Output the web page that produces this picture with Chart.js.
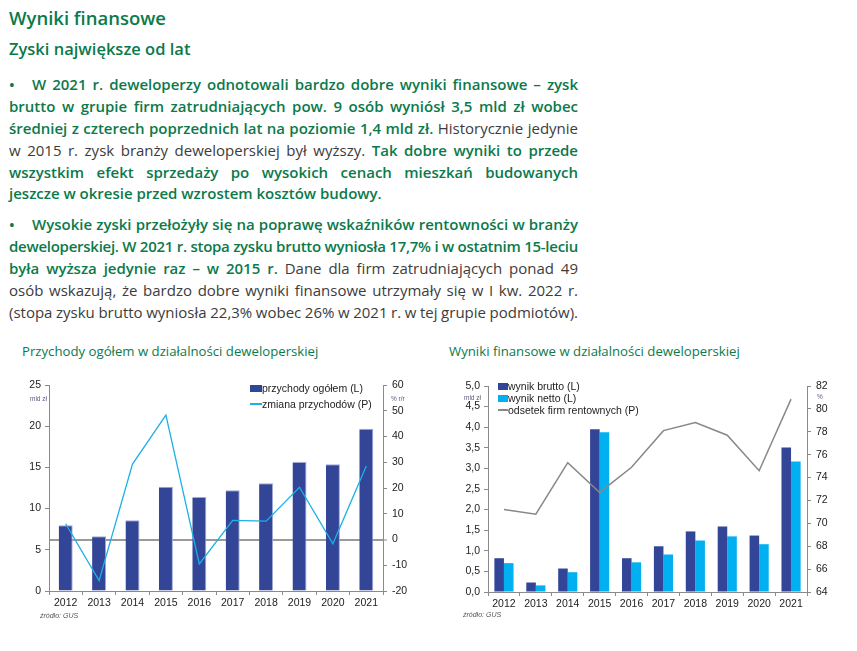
<!DOCTYPE html>
<html>
<head>
<meta charset="utf-8">
<script src="https://cdn.jsdelivr.net/npm/chart.js@4"></script>
<style>
  body { margin: 0; background: #fff; width: 857px; height: 651px; position: relative; overflow: hidden; font-family: "Open Sans", sans-serif; }
  .abs { position: absolute; white-space: nowrap; }
  .h1 { left: 9px; top: 5px; font-size: 18.5px; font-weight: 600; color: #0b7a4b; }
  .h2 { left: 9px; top: 37px; font-size: 16.5px; font-weight: 600; color: #0b7a4b; }
  .ln { left: 9px; width: 569px; height: 22px; line-height: 22px; font-size: 15px; color: #3c3c3c; }
  .ln b { font-weight: 600; color: #0b7a4b; }
  .bl { display: inline-block; width: 23px; font-weight: 600; color: #0b7a4b; }
  .ct { font-size: 13.2px; color: #0b7a4b; }
  .src { font-family: "Liberation Sans", sans-serif; font-style: italic; font-size: 7px; color: #555; }
  .unit { font-family: "Liberation Sans", sans-serif; font-size: 6.5px; color: #5a5a80; }
  .lg { font-family: "Liberation Sans", sans-serif; font-size: 10.5px; color: #222; line-height: 12px; }
  .sw { display: inline-block; vertical-align: middle; margin-top: -2px; }
  canvas { position: absolute; }
</style>
</head>
<body>
<div class="abs h1">Wyniki finansowe</div>
<div class="abs h2">Zyski największe od lat</div>

<div class="abs ln j" style="top:73px"><span><span class="bl">•</span><b>W 2021 r. deweloperzy odnotowali bardzo dobre wyniki finansowe – zysk</b></span></div>
<div class="abs ln j" style="top:95px"><span><b>brutto w grupie firm zatrudniających pow. 9 osób wyniósł 3,5 mld zł wobec</b></span></div>
<div class="abs ln j" style="top:117px"><span><b>średniej z czterech poprzednich lat na poziomie 1,4 mld zł.</b> Historycznie jedynie</span></div>
<div class="abs ln j" style="top:139px"><span>w 2015 r. zysk branży deweloperskiej był wyższy. <b>Tak dobre wyniki to przede</b></span></div>
<div class="abs ln j" style="top:161px"><span><b>wszystkim efekt sprzedaży po wysokich cenach mieszkań budowanych</b></span></div>
<div class="abs ln" style="top:182px"><span><b>jeszcze w okresie przed wzrostem kosztów budowy.</b></span></div>

<div class="abs ln j" style="top:213px"><span><span class="bl">•</span><b>Wysokie zyski przełożyły się na poprawę wskaźników rentowności w branży</b></span></div>
<div class="abs ln j" style="top:235px"><span><b>deweloperskiej. W 2021 r. stopa zysku brutto wyniosła 17,7% i w ostatnim 15-leciu</b></span></div>
<div class="abs ln j" style="top:257px"><span><b>była wyższa jedynie raz – w 2015 r.</b> Dane dla firm zatrudniających ponad 49</span></div>
<div class="abs ln j" style="top:279px"><span>osób wskazują, że bardzo dobre wyniki finansowe utrzymały się w I kw. 2022 r.</span></div>
<div class="abs ln j" style="top:301px"><span>(stopa zysku brutto wyniosła 22,3% wobec 26% w 2021 r. w tej grupie podmiotów).</span></div>

<div class="abs ct" style="left:22px;top:342px">Przychody ogółem w działalności deweloperskiej</div>
<div class="abs ct" style="left:449px;top:342px">Wyniki finansowe w działalności deweloperskiej</div>

<canvas id="revChart" style="left:0;top:370px" width="425" height="250"></canvas>
<canvas id="profitChart" style="left:430px;top:370px" width="427" height="250"></canvas>

<div class="abs unit" style="left:30px;top:395px">mld zł</div>
<div class="abs unit" style="left:391px;top:395px">% r/r</div>
<div class="abs unit" style="left:464px;top:394px">mld zł</div>
<div class="abs unit" style="left:817px;top:393px">%</div>

<div class="abs lg" style="left:250px;top:382px">
  <div><span class="sw" style="width:12px;height:7px;background:#334596"></span>przychody ogółem (L)</div>
  <div style="margin-top:4px"><span class="sw" style="width:12px;height:1.5px;background:#1bb0e6"></span>zmiana przychodów (P)</div>
</div>
<div class="abs lg" style="left:498px;top:380px">
  <div><span class="sw" style="width:10px;height:7px;background:#334596"></span>wynik brutto (L)</div>
  <div><span class="sw" style="width:10px;height:7px;background:#00b0f0"></span>wynik netto (L)</div>
  <div><span class="sw" style="width:10px;height:1.5px;background:#888"></span>odsetek firm rentownych (P)</div>
</div>

<div class="abs src" style="left:40px;top:612px">źródło: GUS</div>
<div class="abs src" style="left:463px;top:611px">źródło: GUS</div>

<script>
const years = ['2012', '2013', '2014', '2015', '2016', '2017', '2018', '2019', '2020', '2021'];
// mld zł
const revenue = [7.97, 6.63, 8.58, 12.66, 11.41, 12.22, 13.07, 15.66, 15.37, 19.7];
// % r/r
const revenueChange = [6.1, -16, 29.3, 48.3, -9.5, 7.4, 7.1, 20.3, -1.7, 28.5];
// mld zł
const grossProfit = [0.82, 0.23, 0.57, 3.95, 0.82, 1.11, 1.47, 1.59, 1.37, 3.51];
const netProfit = [0.70, 0.16, 0.48, 3.88, 0.72, 0.91, 1.25, 1.35, 1.16, 3.17];
// %
const profitableShare = [71.2, 70.8, 75.3, 72.7, 74.9, 78.1, 78.8, 77.7, 74.6, 80.85];

const axisColor = '#8a8a8a';
const tickFont = { family: 'Liberation Sans', size: 10.5 };
const tickColor = '#222';
const comma = v => v.toFixed(1).replace('.', ',');

function fitLines() {
    document.querySelectorAll('.j').forEach(function(el) {
        const sp = el.firstElementChild;
        const w = sp.getBoundingClientRect().width;
        const txt = sp.textContent;
        const n = (txt.match(/ /g) || []).length;
        const diff = 569 - w;
        if (n && diff / n >= -1) {
            sp.style.wordSpacing = (diff / n) + 'px';
        } else {
            sp.style.letterSpacing = (diff / txt.length) + 'px';
        }
    });
}

function xAxis(h) {
    return {
        grid: { offset: true, drawOnChartArea: false, tickLength: 4, color: axisColor },
        border: { color: axisColor },
        ticks: { font: tickFont, color: tickColor, padding: 2, maxRotation: 0 },
        afterFit: s => { s.height = h; }
    };
}

new Chart(document.getElementById('revChart').getContext('2d'), {
    type: 'bar',
    data: {
        labels: years,
        datasets: [{
            type: 'line',
            label: 'zmiana przychodów (P)',
            data: revenueChange,
            yAxisID: 'y1',
            borderColor: '#1bb0e6',
            borderWidth: 1.3,
            pointRadius: 0,
            tension: 0,
            order: 0
        }, {
            label: 'przychody ogółem (L)',
            data: revenue,
            yAxisID: 'y',
            backgroundColor: '#334596',
            borderColor: '#a3a9d6',
            borderWidth: { top: 1, right: 1 },
            categoryPercentage: 0.42,
            barPercentage: 1,
            order: 1
        }]
    },
    options: {
        responsive: false,
        animation: false,
        layout: { padding: { top: 15, left: 0, right: 0, bottom: 0 } },
        plugins: { legend: { display: false }, tooltip: { enabled: false } },
        scales: {
            x: xAxis(29),
            y: {
                position: 'left', min: 0, max: 25,
                ticks: { stepSize: 5, font: tickFont, color: tickColor, padding: 4 },
                grid: { drawOnChartArea: false, tickLength: 4, color: axisColor },
                border: { color: axisColor },
                afterFit: s => { s.width = 49; }
            },
            y1: {
                position: 'right', min: -20, max: 60,
                ticks: { stepSize: 10, font: tickFont, color: tickColor, padding: 5 },
                grid: {
                    color: c => (c.tick && c.tick.value === 0) ? '#9a9a9a' : 'rgba(0,0,0,0)',
                    lineWidth: c => (c.tick && c.tick.value === 0) ? 2 : 1,
                    tickColor: axisColor, tickWidth: 1, tickLength: 4
                },
                border: { color: axisColor },
                afterFit: s => { s.width = 42; }
            }
        }
    }
});

new Chart(document.getElementById('profitChart').getContext('2d'), {
    type: 'bar',
    data: {
        labels: years,
        datasets: [{
            type: 'line',
            label: 'odsetek firm rentownych (P)',
            data: profitableShare,
            yAxisID: 'y1',
            borderColor: '#888888',
            borderWidth: 1.5,
            pointRadius: 0,
            tension: 0,
            order: 0
        }, {
            label: 'wynik brutto (L)',
            data: grossProfit,
            yAxisID: 'y',
            backgroundColor: '#334596',
            categoryPercentage: 0.6,
            barPercentage: 1,
            order: 1
        }, {
            label: 'wynik netto (L)',
            data: netProfit,
            yAxisID: 'y',
            backgroundColor: '#00b0f0',
            categoryPercentage: 0.6,
            barPercentage: 1,
            order: 2
        }]
    },
    options: {
        responsive: false,
        animation: false,
        layout: { padding: { top: 16, left: 0, right: 0, bottom: 0 } },
        plugins: { legend: { display: false }, tooltip: { enabled: false } },
        scales: {
            x: xAxis(28),
            y: {
                position: 'left', min: 0, max: 5,
                ticks: { stepSize: 0.5, font: tickFont, color: tickColor, padding: 4, callback: v => comma(v) },
                grid: { drawOnChartArea: false, tickLength: 4, color: axisColor },
                border: { color: axisColor },
                afterFit: s => { s.width = 58; }
            },
            y1: {
                position: 'right', min: 64, max: 82,
                ticks: { stepSize: 2, font: tickFont, color: tickColor, padding: 5 },
                grid: { drawOnChartArea: false, tickLength: 4, color: axisColor },
                border: { color: axisColor },
                afterFit: s => { s.width = 50; }
            }
        }
    }
});

document.fonts.ready.then(fitLines);
</script>
</body>
</html>
